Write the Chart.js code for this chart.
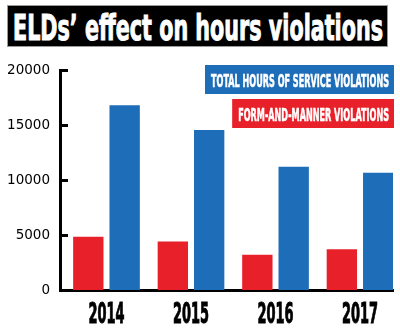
<!DOCTYPE html>
<html>
<head>
<meta charset="utf-8">
<script src="https://cdn.jsdelivr.net/npm/chart.js@4.4.0/dist/chart.umd.min.js"></script>
<style>
  html, body { margin: 0; padding: 0; background: #fff; }
  #wrap { position: relative; width: 400px; height: 335px; overflow: hidden; }
  #titulo { position: absolute; left: 7px; top: 5px; width: 379px; height: 40px; background: #000; border: 1px solid #9a9a9a; overflow: hidden; }
  #titulo span { position: absolute; left: 5px; top: 0; color: #fff; font-weight: bold; font-size: 35px;
    font-family: "Liberation Sans Narrow", "DejaVu Sans Condensed", "Liberation Sans", sans-serif;
    -webkit-text-stroke: 1px #fff;
    line-height: 44px; white-space: nowrap; transform-origin: 0 50%; }
  canvas { position: absolute; left: 0; top: 0; }
</style>
</head>
<body>
<div id="wrap">
  <canvas id="grafico" width="400" height="335"></canvas>
  <div id="titulo"><span>ELDs’ effect on hours violations</span></div>
</div>
<script>
// Datos
const anios = [2014, 2015, 2016, 2017];
const formaManera = [4850, 4400, 3200, 3700];
const totalHoras = [16800, 14550, 11200, 10650];
const etiquetas = ['FORM-AND-MANNER VIOLATIONS', 'TOTAL HOURS OF SERVICE VIOLATIONS'];
const ticksY = [0, 5000, 10000, 15000, 20000];

const rojo = '#E8202A';
const azul = '#1E6DB8';
const fuenteAngosta = '"Liberation Sans Narrow", "DejaVu Sans Condensed", "Liberation Sans", sans-serif';

// Ajustar el título al ancho del recuadro
const span = document.querySelector('#titulo span');
span.style.transform = 'scaleX(' + (370 / span.getBoundingClientRect().width) + ')';

const extras = {
    id: 'extras',
    afterDraw(chart) {
        const ctx = chart.ctx;
        const x = chart.scales.x;
        const y = chart.scales.y;
        const area = chart.chartArea;
        ctx.save();

        // marcas del eje Y hacia adentro
        ctx.strokeStyle = '#000';
        ctx.lineWidth = 3;
        y.ticks.forEach(t => {
            const py = Math.round(y.getPixelForValue(t.value)) + 0.5;
            ctx.beginPath();
            ctx.moveTo(area.left, py);
            ctx.lineTo(area.left + 8, py);
            ctx.stroke();
        });

        // años
        ctx.fillStyle = '#000';
        ctx.strokeStyle = '#000';
        ctx.lineWidth = 1;
        ctx.font = 'bold 28px ' + fuenteAngosta;
        ctx.textAlign = 'center';
        ctx.textBaseline = 'alphabetic';
        anios.forEach(a => {
            ctx.fillText(String(a), x.getPixelForValue(a), 323, 36);
            ctx.strokeText(String(a), x.getPixelForValue(a), 323, 36);
        });

        // leyenda (azul arriba, rojo abajo)
        ctx.font = 'bold 17.5px ' + fuenteAngosta;
        ctx.textAlign = 'left';
        const k = 178 / ctx.measureText(etiquetas[1]).width;
        const derecha = 394;
        let arriba = 65;
        for (let i = chart.data.datasets.length - 1; i >= 0; i--) {
            const ds = chart.data.datasets[i];
            const w = ctx.measureText(ds.label).width * k;
            ctx.fillStyle = ds.backgroundColor;
            ctx.fillRect(derecha - w - 11, arriba, w + 11, 29);
            ctx.fillStyle = '#fff';
            ctx.strokeStyle = '#fff';
            ctx.lineWidth = 0.6;
            ctx.save();
            ctx.translate(derecha - 5 - w, arriba + 22);
            ctx.scale(k, 1);
            ctx.fillText(ds.label, 0, 0);
            ctx.strokeText(ds.label, 0, 0);
            ctx.restore();
            arriba += 34;
        }
        ctx.restore();
    }
};

new Chart(document.getElementById('grafico'), {
    type: 'bar',
    data: {
        datasets: [
            {
                label: etiquetas[0],
                data: anios.map((a, i) => ({ x: a, y: formaManera[i] })),
                backgroundColor: rojo,
                categoryPercentage: 0.86,
                barPercentage: 0.835
            },
            {
                label: etiquetas[1],
                data: anios.map((a, i) => ({ x: a, y: totalHoras[i] })),
                backgroundColor: azul,
                categoryPercentage: 0.86,
                barPercentage: 0.835
            }
        ]
    },
    options: {
        responsive: false,
        animation: false,
        layout: { padding: { top: 70, right: 7, bottom: 45, left: 0 } },
        plugins: {
            legend: { display: false },
            tooltip: { enabled: false }
        },
        scales: {
            x: {
                type: 'linear',
                offset: false,
                min: 2013.45,
                max: 2017.39,
                grid: { display: false, drawTicks: false },
                border: { color: '#000', width: 3 },
                ticks: { display: false, stepSize: 1, includeBounds: false }
            },
            y: {
                min: 0,
                max: 20000,
                afterBuildTicks: s => { s.ticks = ticksY.map(v => ({ value: v })); },
                afterFit: s => { s.width = 60; },
                grid: { display: false, drawTicks: false },
                border: { color: '#000', width: 3 },
                ticks: {
                    color: '#000',
                    padding: 10,
                    font: { family: '"DejaVu Sans"', size: 13.5 },
                    callback: v => String(v)
                }
            }
        }
    },
    plugins: [extras]
});
</script>
</body>
</html>
